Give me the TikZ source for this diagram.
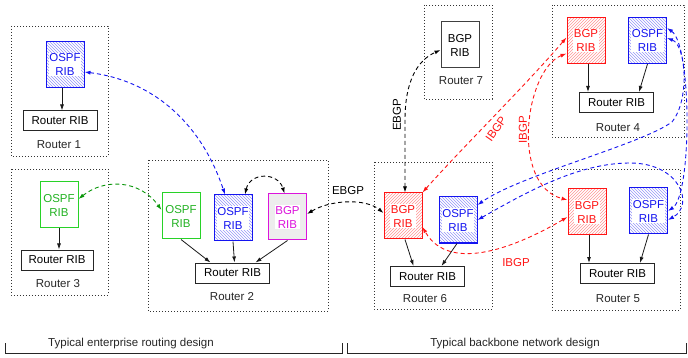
\documentclass[tikz,border=0pt]{standalone}
\usepackage{fontspec}
\setmainfont{Liberation Sans}
\usetikzlibrary{arrows.meta,patterns,calc}
\definecolor{myblue}{RGB}{20,20,240}
\definecolor{myred}{RGB}{255,20,20}
\definecolor{mygreen}{RGB}{40,210,40}
\definecolor{mygreenarr}{RGB}{10,150,10}
\definecolor{mymag}{RGB}{220,20,220}
\begin{document}
\begin{tikzpicture}[x=1pt,y=-1pt,
  font=\fontsize{11.5}{14}\selectfont,
  routerbox/.style={draw=black!80, dash pattern=on 0.8pt off 2.2pt, line width=0.8pt},
  ribbox/.style={rectangle, minimum width=38pt, minimum height=46pt, line width=1pt, inner sep=0pt},
  bluehatch/.style={ribbox, draw=myblue, pattern=north west lines, pattern color=myblue!45},
  redhatch/.style={ribbox, draw=myred, pattern=north east lines, pattern color=myred!45},
  greenbox/.style={ribbox, draw=mygreen, fill=white},
  magbox/.style={ribbox, draw=mymag, fill=black!7},
  blackbox/.style={ribbox, draw=black!75, fill=white},
  ribtext/.style={fill=white, inner sep=0.6pt, align=center},
  mainrib/.style={draw=black!85, line width=1pt, minimum width=74pt, minimum height=20pt, inner sep=0pt, fill=white},
  rlabel/.style={text=black!85},
  solidarr/.style={-{Latex[length=6pt,width=4pt]}, line width=0.8pt, draw=black!90},
  dasharr/.style={{Latex[length=6pt,width=4pt]}-{Latex[length=6pt,width=4pt]}, line width=0.9pt, dash pattern=on 4pt off 3pt},
]
\useasboundingbox (0,0) rectangle (688,358);

% router frames
\draw[routerbox] (11,26) rectangle (108,156);
\draw[routerbox] (11,169) rectangle (108,295);
\draw[routerbox] (148,160) rectangle (328,311);
\draw[routerbox] (374,162) rectangle (492,309);
\draw[routerbox] (424,5) rectangle (492,99);
\draw[routerbox] (552,5) rectangle (684,137);
\draw[routerbox] (552,169) rectangle (680,310);

% Router 1
\node[bluehatch] (r1o) at (65,64.5) {};
\node[ribtext, text=myblue] (r1ot) at (r1o) {OSPF\\RIB};
\node[mainrib] (r1r) at (60,121) {Router RIB};
\node[rlabel] (r1l) at (59,145) {Router 1};

% Router 3
\node[greenbox] (r3o) at (59,205) {};
\node[ribtext, text=mygreen!85!black] (r3ot) at (r3o) {OSPF\\RIB};
\node[mainrib, minimum width=72pt] (r3r) at (57,260) {Router RIB};
\node[rlabel] (r3l) at (58,284) {Router 3};

% Router 2
\node[greenbox] (r2g) at (181,216) {};
\node[ribtext, text=mygreen!85!black] (r2gt) at (r2g) {OSPF\\RIB};
\node[bluehatch] (r2b) at (233,218) {};
\node[ribtext, text=myblue] (r2bt) at (r2b) {OSPF\\RIB};
\node[magbox] (r2m) at (287.5,217) {};
\node[ribtext, text=mymag] (r2mt) at (r2m) {BGP\\RIB};
\node[mainrib] (r2r) at (232.5,273) {Router RIB};
\node[rlabel] (r2l) at (232,297) {Router 2};

% Router 6
\node[redhatch] (r6b) at (403,216) {};
\node[ribtext, text=myred] (r6bt) at (r6b) {BGP\\RIB};
\node[bluehatch] (r6o) at (458,220) {};
\node[ribtext, text=myblue] (r6ot) at (r6o) {OSPF\\RIB};
\node[mainrib] (r6r) at (427.5,276.5) {Router RIB};
\node[rlabel] (r6l) at (425,299) {Router 6};

% Router 7
\node[blackbox] (r7b) at (460,45) {};
\node[ribtext] (r7bt) at (r7b) {BGP\\RIB};
\node[rlabel] (r7l) at (461,81) {Router 7};

% Router 4
\node[redhatch] (r4b) at (586,40.5) {};
\node[ribtext, text=myred] (r4bt) at (r4b) {BGP\\RIB};
\node[bluehatch] (r4o) at (647.5,40.5) {};
\node[ribtext, text=myblue] (r4ot) at (r4o) {OSPF\\RIB};
\node[mainrib] (r4r) at (616.5,102.5) {Router RIB};
\node[rlabel] (r4l) at (618,128) {Router 4};

% Router 5
\node[redhatch] (r5b) at (587,212) {};
\node[ribtext, text=myred] (r5bt) at (r5b) {BGP\\RIB};
\node[bluehatch] (r5o) at (648.5,211) {};
\node[ribtext, text=myblue] (r5ot) at (r5o) {OSPF\\RIB};
\node[mainrib] (r5r) at (617.5,273.5) {Router RIB};
\node[rlabel] (r5l) at (618,299) {Router 5};

% solid arrows inside routers
\draw[solidarr] ([xshift=-3pt]r1o.south) -- ([xshift=2pt]r1r.north);
\draw[solidarr] (r3o.south) -- ([xshift=2pt]r3r.north);
\draw[solidarr] (r2g.south) -- ([xshift=-22pt]r2r.north);
\draw[solidarr] (r2b.south) -- ([xshift=2pt]r2r.north);
\draw[solidarr] (r2m.south) -- ([xshift=23pt]r2r.north);
\draw[solidarr] ([xshift=2pt]r6b.south) -- ([xshift=-14pt]r6r.north);
\draw[solidarr] ([xshift=-1pt]r6o.south) -- ([xshift=14pt]r6r.north);
\draw[solidarr] ([xshift=2pt]r4b.south) -- ([xshift=-28.5pt]r4r.north);
\draw[solidarr] (r4o.south) -- ([xshift=22.5pt]r4r.north);
\draw[solidarr] ([xshift=2pt]r5b.south) -- ([xshift=-28.5pt]r5r.north);
\draw[solidarr] (r5o.south) -- ([xshift=22.5pt]r5r.north);

% dashed sessions
\draw[dasharr, myblue] ([yshift=-7.5pt]r1o.east) .. controls (150,80) and (200,120) .. ([xshift=-8pt]r2b.north);
\draw[dasharr, mygreenarr] ([yshift=6pt]r3o.east) .. controls (105,178) and (140,180) .. ([yshift=6pt]r2g.west);
\draw[dasharr, black] ([xshift=12pt]r2b.north) .. controls (250,172) and (278,172) .. ([xshift=-3pt]r2m.north);
\draw[dasharr, black] ([yshift=3pt]r2m.east) .. controls (330,200) and (365,198) .. ([yshift=3pt]r6b.west);
\node (ebgp1) at (348,191) {EBGP};
\draw[dasharr, black] ([xshift=2pt]r6b.north) -- (405,120) .. controls (405,80) and (418,60) .. ([yshift=-5pt]r7b.west);
\node[rotate=90] (ebgp2) at (397,115) {EBGP};

\draw[dasharr, myred] (r6b.north east) .. controls (462,148) and (525,86) .. ([yshift=3pt]r4b.west);
\node[rotate=55, text=myred] (ibgp1) at (496,129) {IBGP};
\draw[dasharr, myred] ([yshift=-13pt]r4b.west) .. controls (525,70) and (510,185) .. ([yshift=12pt]r5b.west);
\node[rotate=90, text=myred] (ibgp2) at (523,130) {IBGP};
\draw[dasharr, myred] ([yshift=-5pt]r5b.west) .. controls (520,245) and (450,275) .. ([yshift=-11pt]r6b.east);
\node[text=myred] (ibgp3) at (516,263) {IBGP};

\draw[dasharr, myblue] ([yshift=12.5pt]r4o.east) .. controls (692,45) and (692,195) .. (r5o.east);
\draw[dasharr, myblue] ([yshift=2.5pt]r4o.east) .. controls (686,45) and (690,100) .. (672,122) .. controls (640,145) and (520,175) .. ([yshift=15pt]r6o.east);
\draw[dasharr, myblue] (r6o.east) .. controls (530,190) and (580,163) .. (630,163) .. controls (680,163) and (695,205) .. ([yshift=-9pt]r5o.east);

% brackets
\draw[line width=0.8pt, black!85] (5,343) -- (5,353) -- (342,353) -- (342,343);
\draw[line width=0.8pt, black!85] (347,343) -- (347,353) -- (686,353) -- (686,343);
\node[rlabel] (lbl1) at (131,344) {Typical enterprise routing design};
\node[rlabel] (lbl2) at (515,344) {Typical backbone network design};
\end{tikzpicture}
\end{document}
